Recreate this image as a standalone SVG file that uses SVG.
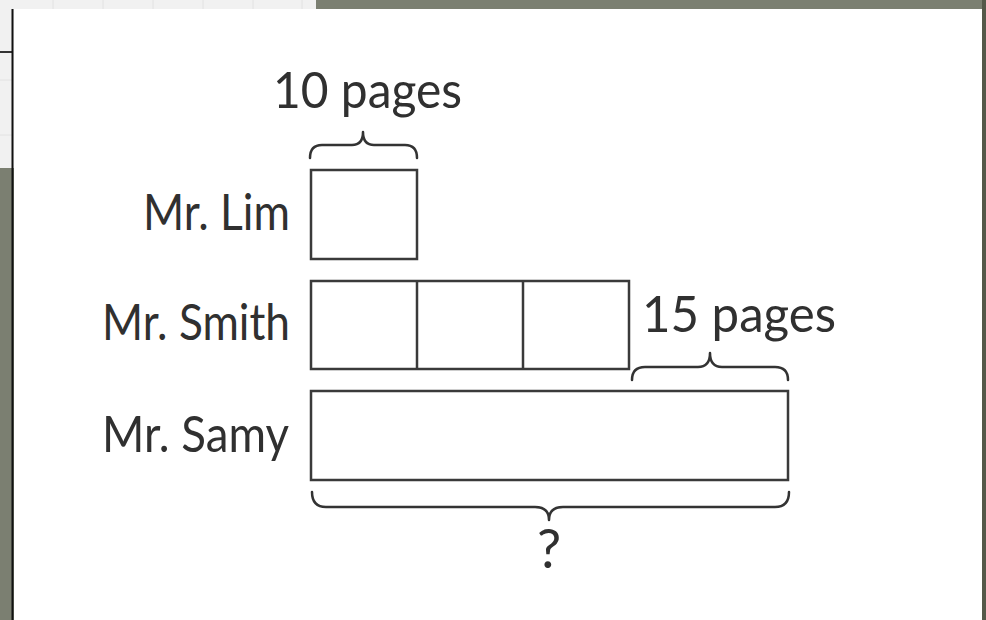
<svg xmlns="http://www.w3.org/2000/svg" width="986" height="620" viewBox="0 0 986 620">
  <style>
    .t { font-family: Lato, "Noto Sans", "Liberation Sans", sans-serif; font-size: 51px; font-weight: 400; fill: #303030; }
    .box { fill: none; stroke: #3a3a3a; stroke-width: 2.5; }
    .brace { fill: none; stroke: #333333; stroke-width: 2.5; stroke-linecap: round; stroke-linejoin: round; }
    .grid { stroke: #e2e2e2; stroke-width: 1; }
  </style>
  <!-- background -->
  <rect x="0" y="0" width="986" height="620" fill="#7b7f71"/>
  <rect x="0" y="0" width="316" height="168" fill="#f1f1f1"/>
  <g class="grid">
    <line x1="53" y1="0" x2="53" y2="9"/>
    <line x1="103" y1="0" x2="103" y2="9"/>
    <line x1="153" y1="0" x2="153" y2="9"/>
    <line x1="203" y1="0" x2="203" y2="9"/>
    <line x1="253" y1="0" x2="253" y2="9"/>
    <line x1="302" y1="0" x2="302" y2="9"/>
    <line x1="0" y1="80" x2="13" y2="80"/>
    <line x1="0" y1="135" x2="13" y2="135"/>
  </g>
  <line x1="0" y1="52" x2="13" y2="52" stroke="#333" stroke-width="2"/>
  <rect x="982" y="0" width="4" height="620" fill="#555849"/>
  <rect x="14" y="9" width="968" height="611" fill="#ffffff"/>
  <line x1="12.5" y1="9" x2="12.5" y2="620" stroke="#111" stroke-width="2"/>

  <!-- nodes -->
  <g id="mr-lim">
    <text class="t" x="143" y="230" textLength="147" lengthAdjust="spacingAndGlyphs">Mr. Lim</text>
    <rect class="box" x="311" y="170" width="106" height="89"/>
  </g>
  <g id="mr-smith">
    <text class="t" x="102" y="340" textLength="188" lengthAdjust="spacingAndGlyphs">Mr. Smith</text>
    <rect class="box" x="311" y="281" width="318" height="88"/>
    <line class="box" x1="417" y1="281" x2="417" y2="369"/>
    <line class="box" x1="523" y1="281" x2="523" y2="369"/>
  </g>
  <g id="mr-samy">
    <text class="t" x="102" y="452" textLength="187" lengthAdjust="spacingAndGlyphs">Mr. Samy</text>
    <rect class="box" x="311" y="391" width="477" height="89"/>
  </g>
  <g id="label-10">
    <text class="t" x="273" y="108" textLength="189" lengthAdjust="spacingAndGlyphs">10 pages</text>
  </g>
  <g id="label-15">
    <text class="t" x="642" y="332" textLength="194" lengthAdjust="spacingAndGlyphs">15 pages</text>
  </g>
  <g id="label-q">
    <text class="t" x="549" y="568" text-anchor="middle" style="font-size:54px">?</text>
  </g>

  <!-- connectors (braces) -->
  <g id="braces">
    <path class="brace" d="M310,158 Q310,145 322,145 L352,145 Q363,145 363,132 Q363,145 374,145 L405,145 Q417,145 417,158"/>
    <path class="brace" d="M632,380 Q632,367 645,367 L698,367 Q710,367 710,353 Q710,367 722,367 L775,367 Q788,367 788,380"/>
    <path class="brace" d="M312,492 Q312,507 326,507 L535,507 Q549,507 549,520 Q549,507 563,507 L775,507 Q789,507 789,492"/>
  </g>
</svg>
